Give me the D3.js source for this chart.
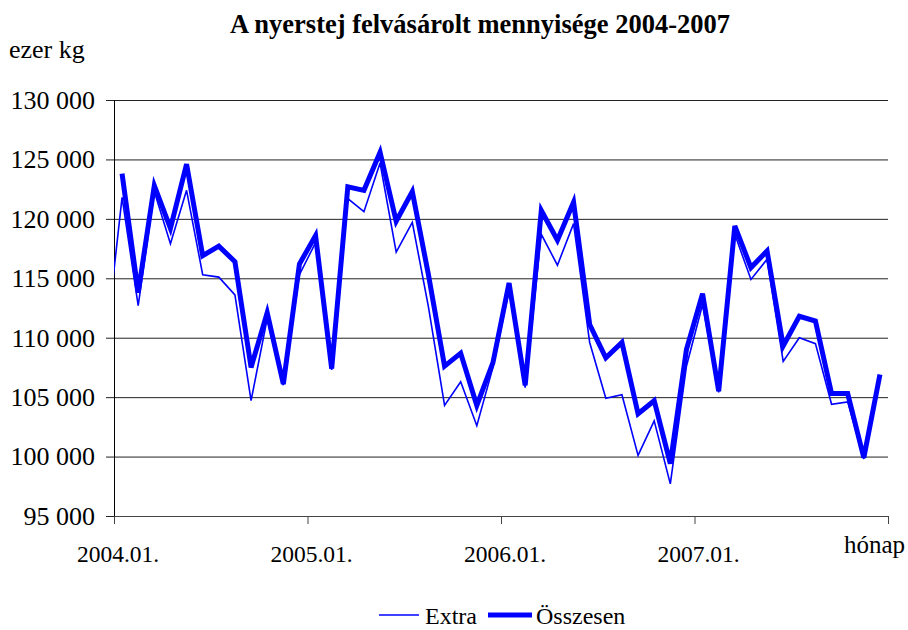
<!DOCTYPE html>
<html>
<head>
<meta charset="utf-8">
<script src="https://cdn.jsdelivr.net/npm/d3@7"></script>
<style>
  body { margin: 0; background: #fff; }
  svg text { font-family: "Liberation Serif", "Times New Roman", serif; fill: #000; }
</style>
</head>
<body>
<div id="chart"></div>
<script>
// ── data (ezer kg), 2004.01 – 2007.12
const years = [2004, 2005, 2006, 2007];
const months = [];
years.forEach(y => d3.range(1, 13).forEach(m => months.push(`${y}.${String(m).padStart(2, '0')}.`)));

const extraValues = [
  121800, 112700, 122300, 117900, 122400, 115300, 115100, 113600, 104700, 111600, 106000, 115300,
  118000, 107300, 121700, 120600, 124700, 117200, 119700, 112600, 104300, 106300, 102600, 107500,
  114000, 105800, 118700, 116100, 119600, 109600, 104900, 105200, 100100, 103000, 97700, 107600,
  112800, 105400, 118700, 114900, 116600, 108000, 110000, 109500, 104400, 104600, 99800, 106800
];
// Extra continues from the previous month (2003.12), clipped at the axis
const extraPrev = 109600;

const totalValues = [
  123800, 113800, 122800, 119200, 124600, 116900, 117700, 116400, 107500, 112100, 106100, 116200,
  118600, 107400, 122700, 122400, 125600, 119800, 122300, 115300, 107600, 108700, 104300, 107900,
  114600, 106000, 120700, 118200, 121400, 111100, 108300, 109600, 103600, 104700, 99400, 109000,
  113700, 105500, 119400, 115900, 117300, 109300, 111800, 111400, 105300, 105300, 99900, 106900
];

const yTicks = [95000, 100000, 105000, 110000, 115000, 120000, 125000, 130000];
const xLabelMonths = ['2004.01.', '2005.01.', '2006.01.', '2007.01.'];

// ── layout
const W = 908, H = 630;
const plot = { left: 114, right: 888, top: 100, bottom: 516 };
const serif = '"Liberation Serif", "Times New Roman", serif';

const svg = d3.select('#chart').append('svg')
  .attr('width', W).attr('height', H);

const x = d3.scaleBand().domain(months).range([plot.left, plot.right]).padding(0);
const bw = x.bandwidth();
const cx = m => x(m) + bw / 2;
const y = d3.scaleLinear().domain([95000, 130000]).range([plot.bottom, plot.top]);

const huFmt = d3.formatLocale({ decimal: ',', thousands: ' ', grouping: [3], currency: ['', ' Ft'] }).format(',d');

// title
svg.append('text')
  .attr('x', 480).attr('y', 33)
  .attr('text-anchor', 'middle')
  .attr('font-family', serif)
  .attr('font-size', '26.5px').attr('font-weight', 'bold')
  .text('A nyerstej felvásárolt mennyisége 2004-2007');

svg.append('text')
  .attr('x', 9).attr('y', 58)
  .attr('font-family', serif)
  .attr('font-size', '26px')
  .text('ezer kg');

// gridlines + y axis
svg.append('g')
  .attr('transform', `translate(${plot.left},0)`)
  .call(d3.axisLeft(y).tickValues(yTicks).tickFormat(huFmt)
    .tickSizeInner(-(plot.right - plot.left)).tickSizeOuter(0).tickPadding(19))
  .call(g => g.select('.domain').remove())
  .call(g => g.selectAll('.tick line').attr('stroke', '#222').attr('stroke-width', 1))
  .call(g => g.selectAll('.tick text').attr('font-size', '26px')
    .attr('font-family', serif).attr('fill', '#000'));

// small outside tick marks on y axis
svg.append('g')
  .attr('transform', `translate(${plot.left},0)`)
  .call(d3.axisLeft(y).tickValues(yTicks).tickFormat('').tickSize(8).tickSizeOuter(0))
  .call(g => g.select('.domain').attr('stroke', '#000'))
  .call(g => g.selectAll('.tick line').attr('stroke', '#222'));

// x axis: ticks every 12 months at band edges
const tickEdges = xLabelMonths.map(m => x(m)).concat([plot.right]);
const xEdge = d3.scaleLinear().domain([plot.left, plot.right]).range([plot.left, plot.right]);
svg.append('g')
  .attr('transform', `translate(0,${plot.bottom})`)
  .call(d3.axisBottom(xEdge).tickValues(tickEdges).tickFormat('').tickSize(8).tickSizeOuter(0))
  .call(g => g.select('.domain').attr('stroke', '#444'))
  .call(g => g.selectAll('.tick line').attr('stroke', '#444'));

// x labels at category centers
svg.append('g')
  .selectAll('text')
  .data(xLabelMonths)
  .join('text')
    .attr('x', d => cx(d) - 4)
    .attr('y', 562)
    .attr('text-anchor', 'middle')
    .attr('font-family', serif)
    .attr('font-size', '23.5px')
    .text(d => d);

svg.append('text')
  .attr('x', 905).attr('y', 553)
  .attr('text-anchor', 'end')
  .attr('font-family', serif)
  .attr('font-size', '25px')
  .text('hónap');

// clip to plot area
svg.append('clipPath').attr('id', 'plot-clip')
  .append('rect')
  .attr('x', plot.left).attr('y', 0)
  .attr('width', plot.right - plot.left).attr('height', H);

const line = d3.line().x(d => d.x).y(d => y(d.v));

const extraPts = [{ x: cx(months[0]) - bw, v: extraPrev }]
  .concat(months.map((m, i) => ({ x: cx(m), v: extraValues[i] })));
const totalPts = months.map((m, i) => ({ x: cx(m), v: totalValues[i] }));

const lines = svg.append('g').attr('clip-path', 'url(#plot-clip)');

lines.append('path')
  .attr('d', line(totalPts))
  .attr('fill', 'none')
  .attr('stroke', '#0000ff')
  .attr('stroke-width', 5)
  .attr('stroke-linejoin', 'miter');

lines.append('path')
  .attr('d', line(extraPts))
  .attr('fill', 'none')
  .attr('stroke', '#0000ff')
  .attr('stroke-width', 1.6)
  .attr('stroke-linejoin', 'miter');

// legend
const legend = svg.append('g').attr('transform', 'translate(0,615)');
legend.append('line')
  .attr('x1', 379).attr('x2', 419).attr('y1', 0).attr('y2', 0)
  .attr('stroke', '#0000ff').attr('stroke-width', 1.6);
legend.append('text')
  .attr('x', 425).attr('y', 9).attr('font-family', serif).attr('font-size', '24px').text('Extra');
legend.append('line')
  .attr('x1', 488).attr('x2', 532).attr('y1', 0).attr('y2', 0)
  .attr('stroke', '#0000ff').attr('stroke-width', 5);
legend.append('text')
  .attr('x', 536).attr('y', 9).attr('font-family', serif).attr('font-size', '24px').text('Összesen');
</script>
</body>
</html>
